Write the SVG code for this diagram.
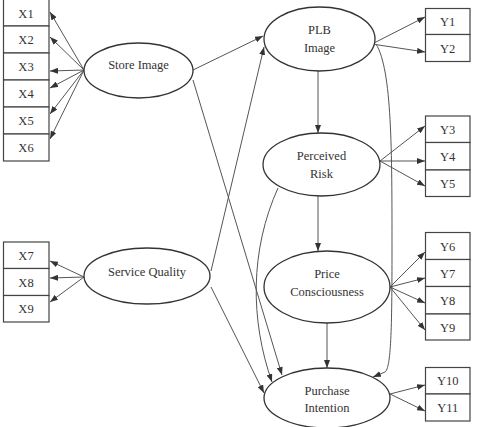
<svg xmlns="http://www.w3.org/2000/svg" width="478" height="427" viewBox="0 0 478 427">
<style>
.box{fill:#fff;stroke:#444;stroke-width:1.2}
.ell{fill:#fff;stroke:#333;stroke-width:1.3}
.t{font-family:"Liberation Serif",serif;font-size:12.5px;fill:#333;text-anchor:middle}
.c{fill:none;stroke:#555;stroke-width:1}
</style>
<defs>
<marker id="a" viewBox="0 0 8 6" refX="8" refY="3" markerWidth="8" markerHeight="6" markerUnits="userSpaceOnUse" orient="auto">
<path d="M0,0 L8,3 L0,6 z" fill="#333"/>
</marker>
</defs>
<rect width="478" height="427" fill="#fff"/>
<g id="connectors">
<line class="c" x1="84" y1="70" x2="50" y2="12" marker-end="url(#a)"/>
<line class="c" x1="84" y1="70" x2="50" y2="37" marker-end="url(#a)"/>
<line class="c" x1="84" y1="70" x2="50" y2="71" marker-end="url(#a)"/>
<line class="c" x1="84" y1="70" x2="50" y2="88" marker-end="url(#a)"/>
<line class="c" x1="84" y1="70" x2="50" y2="114" marker-end="url(#a)"/>
<line class="c" x1="84" y1="70" x2="50" y2="139" marker-end="url(#a)"/>
<line class="c" x1="84" y1="277" x2="50" y2="261" marker-end="url(#a)"/>
<line class="c" x1="84" y1="277" x2="50" y2="278" marker-end="url(#a)"/>
<line class="c" x1="84" y1="277" x2="50" y2="302" marker-end="url(#a)"/>
<line class="c" x1="193" y1="70" x2="263" y2="36" marker-end="url(#a)"/>
<line class="c" x1="211" y1="271" x2="264" y2="47" marker-end="url(#a)"/>
<line class="c" x1="193" y1="80" x2="282" y2="375" marker-end="url(#a)"/>
<line class="c" x1="211" y1="287" x2="264" y2="393" marker-end="url(#a)"/>
<path class="c" d="M278,188 C250,250 250,320 272,382" marker-end="url(#a)"/>
<path class="c" d="M376,44 C392,70 392,150 392,250 C392,330 391,368 385,372 L373,377" marker-end="url(#a)"/>
<line class="c" x1="318" y1="71" x2="318" y2="133" marker-end="url(#a)"/>
<line class="c" x1="318" y1="196" x2="318" y2="251" marker-end="url(#a)"/>
<line class="c" x1="327" y1="323" x2="327" y2="368" marker-end="url(#a)"/>
<line class="c" x1="372" y1="44" x2="425" y2="17" marker-end="url(#a)"/>
<line class="c" x1="372" y1="44" x2="425" y2="52" marker-end="url(#a)"/>
<line class="c" x1="380" y1="161" x2="425" y2="126" marker-end="url(#a)"/>
<line class="c" x1="380" y1="161" x2="425" y2="161" marker-end="url(#a)"/>
<line class="c" x1="380" y1="161" x2="425" y2="186" marker-end="url(#a)"/>
<line class="c" x1="390" y1="287" x2="425" y2="252" marker-end="url(#a)"/>
<line class="c" x1="390" y1="287" x2="425" y2="278" marker-end="url(#a)"/>
<line class="c" x1="390" y1="287" x2="425" y2="303" marker-end="url(#a)"/>
<line class="c" x1="390" y1="287" x2="425" y2="330" marker-end="url(#a)"/>
<line class="c" x1="390" y1="394" x2="425" y2="385" marker-end="url(#a)"/>
<line class="c" x1="390" y1="394" x2="425" y2="411" marker-end="url(#a)"/>
</g>
<g id="X1"><rect class="box" x="3.5" y="-1" width="45.5" height="27"/><text class="t" x="26" y="17.5">X1</text></g>
<g id="X2"><rect class="box" x="3.5" y="26" width="45.5" height="27"/><text class="t" x="26" y="44">X2</text></g>
<g id="X3"><rect class="box" x="3.5" y="53" width="45.5" height="27"/><text class="t" x="26" y="71">X3</text></g>
<g id="X4"><rect class="box" x="3.5" y="80" width="45.5" height="27"/><text class="t" x="26" y="98">X4</text></g>
<g id="X5"><rect class="box" x="3.5" y="107" width="45.5" height="27"/><text class="t" x="26" y="125">X5</text></g>
<g id="X6"><rect class="box" x="3.5" y="134" width="45.5" height="27"/><text class="t" x="26" y="152">X6</text></g>
<g id="X7"><rect class="box" x="3.5" y="242" width="45.5" height="26.5"/><text class="t" x="26" y="260">X7</text></g>
<g id="X8"><rect class="box" x="3.5" y="268.5" width="45.5" height="27"/><text class="t" x="26" y="286.5">X8</text></g>
<g id="X9"><rect class="box" x="3.5" y="295.5" width="45.5" height="26.5"/><text class="t" x="26" y="313">X9</text></g>
<g id="StoreImage"><ellipse class="ell" cx="138.5" cy="70.5" rx="54.5" ry="27.5"/><text class="t" x="138.5" y="69">Store Image</text></g>
<g id="ServiceQuality"><ellipse class="ell" cx="147" cy="276" rx="63" ry="28"/><text class="t" x="147" y="276">Service Quality</text></g>
<g id="PLBImage"><ellipse class="ell" cx="319.5" cy="39" rx="55.5" ry="32"/><text class="t" x="319.5" y="34">PLB</text><text class="t" x="319.5" y="52">Image</text></g>
<g id="PerceivedRisk"><ellipse class="ell" cx="321.5" cy="164.5" rx="58.5" ry="31.5"/><text class="t" x="321.5" y="160">Perceived</text><text class="t" x="321.5" y="177.5">Risk</text></g>
<g id="PriceConsciousness"><ellipse class="ell" cx="327" cy="287" rx="63" ry="36"/><text class="t" x="327" y="277.5">Price</text><text class="t" x="327" y="296">Consciousness</text></g>
<g id="PurchaseIntention"><ellipse class="ell" cx="327" cy="398" rx="63" ry="30"/><text class="t" x="327" y="394.5">Purchase</text><text class="t" x="327" y="411.5">Intention</text></g>
<g id="Y1"><rect class="box" x="425.5" y="8.5" width="44.5" height="26"/><text class="t" x="447.7" y="26">Y1</text></g>
<g id="Y2"><rect class="box" x="425.5" y="34.5" width="44.5" height="27"/><text class="t" x="447.7" y="52.5">Y2</text></g>
<g id="Y3"><rect class="box" x="425.5" y="116" width="44.5" height="26.5"/><text class="t" x="447.7" y="133.5">Y3</text></g>
<g id="Y4"><rect class="box" x="425.5" y="142.5" width="44.5" height="27.5"/><text class="t" x="447.7" y="160.5">Y4</text></g>
<g id="Y5"><rect class="box" x="425.5" y="170" width="44.5" height="26.5"/><text class="t" x="447.7" y="187.5">Y5</text></g>
<g id="Y6"><rect class="box" x="425.5" y="232.5" width="44.5" height="27"/><text class="t" x="447.7" y="250.5">Y6</text></g>
<g id="Y7"><rect class="box" x="425.5" y="259.5" width="44.5" height="27"/><text class="t" x="447.7" y="277.5">Y7</text></g>
<g id="Y8"><rect class="box" x="425.5" y="286.5" width="44.5" height="27.5"/><text class="t" x="447.7" y="304.5">Y8</text></g>
<g id="Y9"><rect class="box" x="425.5" y="314" width="44.5" height="26"/><text class="t" x="447.7" y="331.5">Y9</text></g>
<g id="Y10"><rect class="box" x="425.5" y="367.5" width="44.5" height="26.5"/><text class="t" x="447.7" y="385">Y10</text></g>
<g id="Y11"><rect class="box" x="425.5" y="394" width="44.5" height="27"/><text class="t" x="447.7" y="412">Y11</text></g>
</svg>
